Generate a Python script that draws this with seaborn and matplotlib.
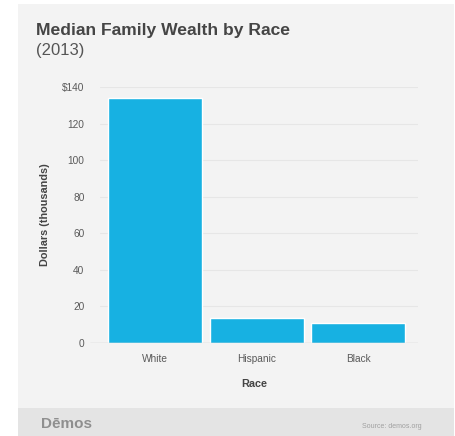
import matplotlib
matplotlib.use("Agg")
import matplotlib.pyplot as plt
from matplotlib.patches import Rectangle
import seaborn as sns
import pandas as pd

races = ["White", "Hispanic", "Black"]
wealth = [134.2, 13.7, 11.0]
yticks = [0, 20, 40, 60, 80, 100, 120, 140]
ytick_labels = ["0", "20", "40", "60", "80", "100", "120", "$140"]

sns.set_theme(style="white")
plt.rcParams["font.family"] = ["Liberation Sans", "DejaVu Sans"]

W, H = 456, 436
fig = plt.figure(figsize=(W / 100, H / 100), dpi=100, facecolor="white")

def fx(px):
    return px / W

def fy(py):
    return 1 - py / H

# panel background
fig.patches.append(Rectangle((fx(18), fy(436)), fx(454) - fx(18), fy(4) - fy(436),
                             transform=fig.transFigure, facecolor="#f3f3f3", edgecolor="none", zorder=-2))
fig.patches.append(Rectangle((fx(18), fy(436)), fx(454) - fx(18), fy(408) - fy(436),
                             transform=fig.transFigure, facecolor="#e4e4e4", edgecolor="none", zorder=-1))

ax = fig.add_axes([fx(90), fy(343), fx(418) - fx(90), fy(87) - fy(343)])
ax.set_facecolor("none")
ax.set_zorder(5)

df = pd.DataFrame({"Race": races, "Wealth": wealth})
sns.barplot(data=df, x="Race", y="Wealth", color="#17b1e2", saturation=1,
            width=0.925, ax=ax, zorder=3)

ax.set_xlim(-0.64, 2.59)
ax.set_ylim(0, 140)
ax.set_yticks(yticks)
ax.set_yticklabels(ytick_labels)
for y in yticks[1:]:
    ax.axhline(y, color="#e6e6e6", lw=0.8, zorder=1, xmin=0.03)
ax.axhline(0, color="#b5b5b5", lw=0.9, zorder=4)
for s in ax.spines.values():
    s.set_visible(False)
ax.tick_params(axis="both", length=0, labelsize=7.3, labelcolor="#5a5a5a")
ax.tick_params(axis="y", pad=4)
ax.tick_params(axis="x", pad=8)
ax.set_xlabel("Race", fontsize=7.8, fontweight="bold", color="#444444", labelpad=11)
ax.set_ylabel("Dollars (thousands)", fontsize=7.8, fontweight="bold", color="#444444", labelpad=9)

fig.text(fx(36), fy(30), "Median Family Wealth by Race", fontsize=12.6, fontweight="bold",
         color="#454545", va="center", ha="left")
fig.text(fx(36), fy(50), "(2013)", fontsize=12, color="#555555", va="center", ha="left")
fig.text(fx(41), fy(424), "Dēmos", fontsize=11, color="#8f8f8f", va="center", ha="left",
         fontweight="bold")
fig.text(fx(422), fy(426), "Source: demos.org", fontsize=5, color="#a0a0a0", va="center", ha="right")

fig.savefig("out.png", dpi=100, facecolor="white")
